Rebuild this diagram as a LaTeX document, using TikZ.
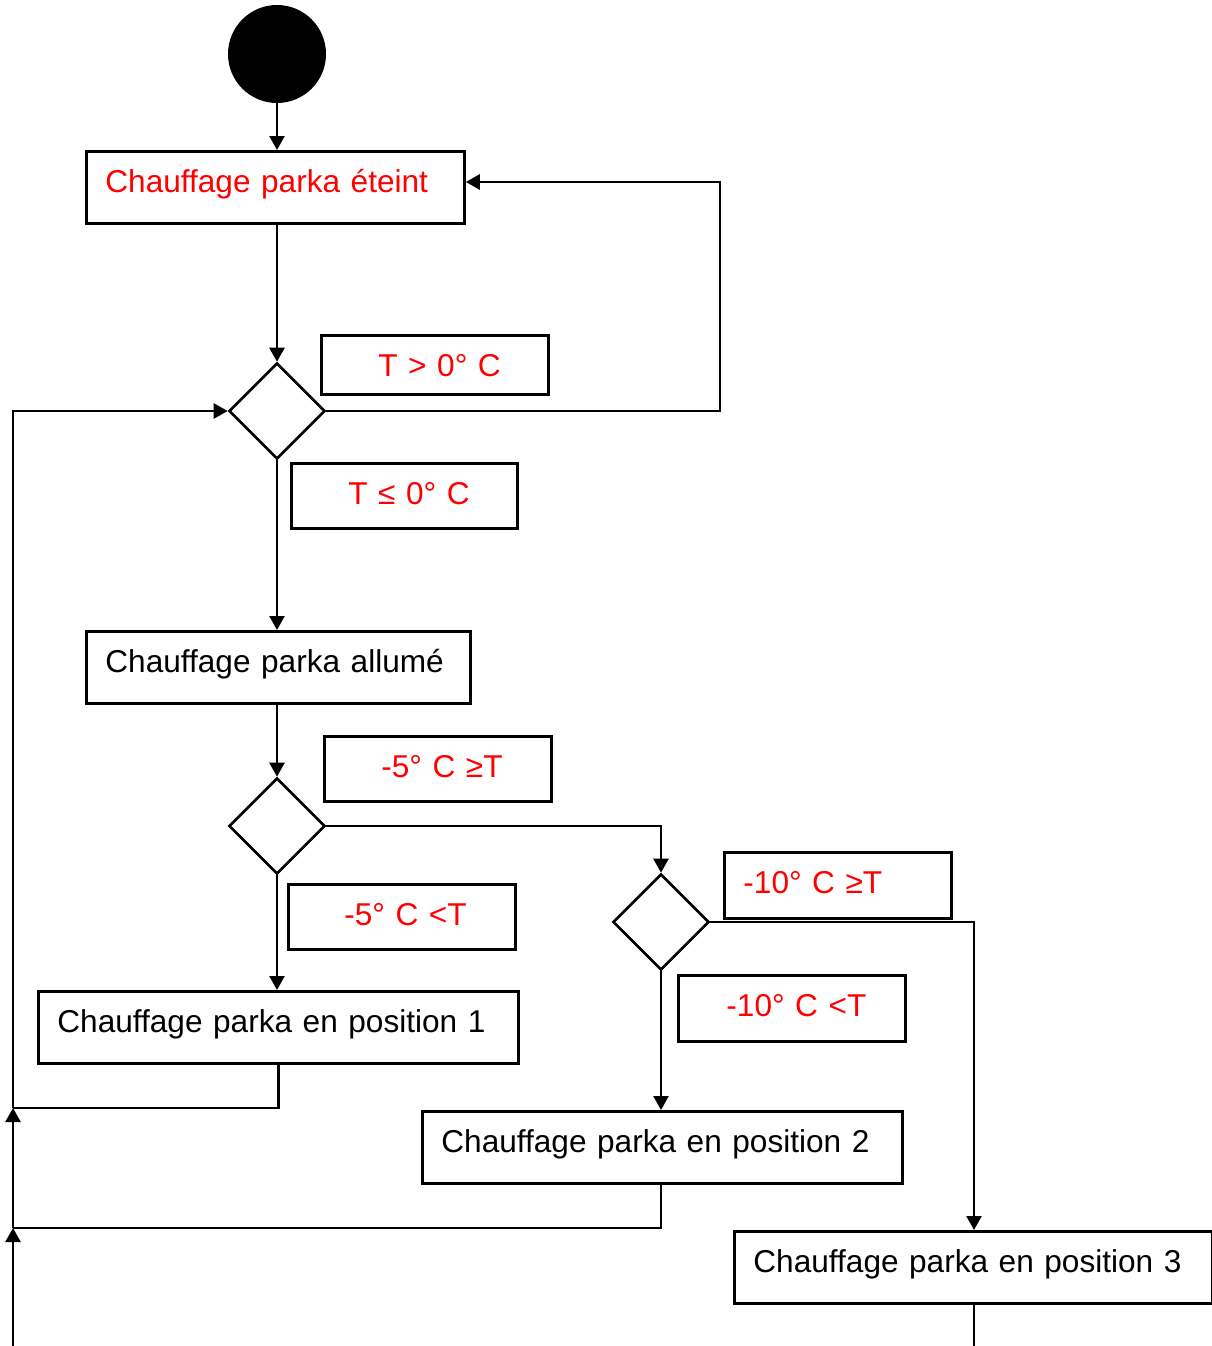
\documentclass[tikz,border=0pt]{standalone}
\usepackage{fontspec}
\setmainfont{Liberation Sans}
\usetikzlibrary{arrows.meta,shapes.geometric}
\definecolor{tred}{RGB}{255,0,0}
\begin{document}
\begin{tikzpicture}[x=1pt,y=-1pt,
  box/.style n args={2}{draw, line width=2.8pt, inner sep=0pt, anchor=north west,
     text width=#1, text height=41pt, text depth=#2, align=left,
     font=\fontsize{31.6}{38}\selectfont},
  dec/.style={draw, diamond, aspect=1, minimum width=96pt, minimum height=96pt,
     inner sep=0pt, line width=2.6pt},
  conn/.style={line width=2.5pt},
  arr/.style={conn, -{Triangle[length=14pt,width=15pt]}}]
\useasboundingbox (0,0) rectangle (1211,1346);

% start
\node[circle, fill=black, minimum size=98pt, inner sep=0pt] (start) at (277,54) {};

% states
\node[box={378pt}{31pt}, text=tred] (b0) at (85,150) {\hspace*{19pt}Chauffage parka éteint};
\node[box={384pt}{31pt}] (b1) at (85,630) {\hspace*{19pt}Chauffage parka allumé};
\node[box={480pt}{31pt}] (b2) at (37,990) {\hspace*{19pt}Chauffage parka en position 1};
\node[box={480pt}{31pt}] (b3) at (421,1110) {\hspace*{19pt}Chauffage parka en position 2};
\node[box={478pt}{31pt}] (b4) at (733,1230) {\hspace*{19pt}Chauffage parka en position 3};

% decisions
\node[dec] (d1) at (277,411) {};
\node[dec] (d2) at (277,826) {};
\node[dec] (d3) at (661,922) {};

% guard labels
\node[box={227pt}{18pt}, text=tred] (l1) at (320,334) {\hspace*{57pt}T > 0° C};
\node[box={226pt}{24pt}, text=tred] (l2) at (290,462) {\hspace*{57pt}T ≤ 0° C};
\node[box={227pt}{24pt}, text=tred] (l3) at (323,735) {\hspace*{57pt}-5° C ≥T};
\node[box={227pt}{24pt}, text=tred] (l4) at (287,883) {\hspace*{56pt}-5° C <T};
\node[box={227pt}{25pt}, text=tred] (l5) at (723,851) {\hspace*{19pt}-10° C ≥T};
\node[box={227pt}{25pt}, text=tred] (l6) at (677,974) {\hspace*{48pt}-10° C <T};

% helper coordinates
\coordinate (r1) at (720,182);
\coordinate (j1) at (13,1108);
\coordinate (j2) at (13,1228);
\coordinate (bl) at (13,1346);
\coordinate (br) at (974,1346);
\coordinate (c3) at (974,1230);

% connectors
\draw[arr] (start.south) -- (b0.north -| start.south);
\draw[arr] (b0.south -| d1.north) -- (d1.north);
\draw[arr] (d1.east) -| (r1) -- (r1 -| b0.east);
\draw[arr] (d1.south) -- (b1.north -| d1.south);
\draw[arr] (b1.south -| d2.north) -- (d2.north);
\draw[arr] (d2.east) -| (d3.north);
\draw[arr] (d2.south) -- (b2.north -| d2.south);
\draw[arr] (d3.east) -| (c3);
\draw[arr] (d3.south) -- (b3.north -| d3.south);
\draw[conn] (b2.south) |- (j1);
\draw[conn] (b3.south -| d3.south) |- (j2);
\draw[conn] (c3 |- b4.south) -- (br);
\draw[arr] (bl) -- (j2);
\draw[arr] (j2) -- (j1);
\draw[arr] (j1) |- (d1.west);
\end{tikzpicture}
\end{document}
